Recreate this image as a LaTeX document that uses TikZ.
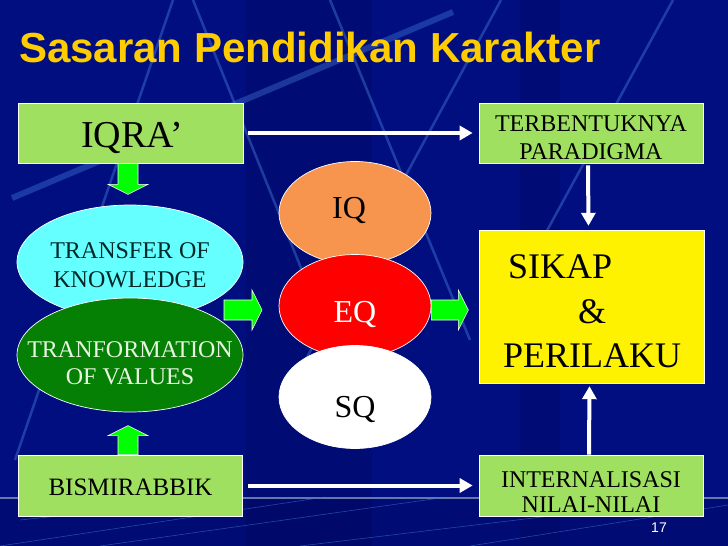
\documentclass[tikz,border=0pt]{standalone}
\usepackage{fontspec}
\setmainfont{Liberation Serif}
\newfontfamily\titlefont{Liberation Sans}
\usetikzlibrary{arrows.meta,shapes.geometric}
\definecolor{bg}{RGB}{0,14,128}
\definecolor{bgdark}{RGB}{0,6,92}
\definecolor{deco}{RGB}{60,110,205}
\definecolor{boxgreen}{RGB}{160,224,96}
\definecolor{cyanell}{RGB}{102,255,255}
\definecolor{darkgreen}{RGB}{5,128,5}
\definecolor{orangeell}{RGB}{247,148,78}
\definecolor{titleyellow}{RGB}{255,204,0}
\definecolor{blockgreen}{RGB}{0,255,0}
\definecolor{greentext}{RGB}{232,245,225}
\definecolor{cyantext}{RGB}{0,40,40}
% block arrow pointing along local +x, tail at local origin; #1 = total length
\newcommand\blockarr[1]{\filldraw[blk] (0,-10) -- (#1-10,-10) -- (#1-10,-20) -- (#1,0) -- (#1-10,20) -- (#1-10,10) -- (0,10) -- cycle;}
\begin{document}
\begin{tikzpicture}[x=1pt,y=-1pt,
  gbox/.style={rectangle, draw=white, line width=0.7pt, fill=boxgreen, minimum width=225pt, minimum height=60pt, inner sep=0pt},
  ellshape/.style={ellipse, draw=white, line width=0.7pt, inner sep=0pt},
  blk/.style={draw=white, line width=0.6pt, fill=blockgreen},
  warrow/.style={draw=white, line width=4pt, -{Triangle[length=13pt,width=14pt]}},
  boxtext/.style={font=\fontsize{24}{28}\selectfont, align=center, text=black, inner sep=0pt},
  qtext/.style={font=\fontsize{32}{36}\selectfont, anchor=base, inner sep=0pt},
  bigtext/.style={font=\fontsize{36}{40}\selectfont, anchor=base west, inner sep=0pt, text=black},
  decoline/.style={draw=deco, line width=2.5pt, opacity=0.5}
]
\useasboundingbox (0,0) rectangle (728,546);
% background
\fill[bg] (0,0) rectangle (728,546);
\fill[bgdark, opacity=0.35] (246,0) rectangle (372,546);
\fill[bgdark, opacity=0.25] (520,0) rectangle (560,546);
\draw[decoline] (173,0) -- (15,460);
\draw[decoline] (193,0) -- (330,340);
\draw[decoline] (330,0) -- (470,340);
\draw[decoline] (501,0) -- (300,370);
\draw[decoline] (673,0) -- (520,280);
\draw[draw=deco, line width=6pt, opacity=0.45] (453,12) -- (12,198);
\fill[bgdark, opacity=0.35] (0,498) rectangle (728,546);
\draw[color={rgb,255:red,100;green,120;blue,175}, line width=1.5pt] (0,498) -- (728,498);
\begin{scope}[draw=deco, line width=0.6pt, opacity=0.6]
\draw (0,546) -- (325,497);
\draw (100,546) -- (440,498);
\draw (300,546) -- (700,498);
\draw (470,546) -- (728,505);
\draw (20,520) -- (230,498);
\end{scope}
% title
\node[anchor=base west, inner sep=0pt, text=titleyellow, font=\titlefont\bfseries\fontsize{42}{46}\selectfont] (title) at (19,62) {Sasaran Pendidikan Karakter};
% boxes
\node[gbox] (iqra) at (130.5,133) {};
\node[gbox, minimum width=224pt] (terb) at (591,133) {};
\node[rectangle, fill=yellow, draw=white, line width=0.4pt, minimum width=225pt, minimum height=153pt, inner sep=0pt] (sikap) at (591.5,306.5) {};
\node[gbox, minimum width=224pt, minimum height=61pt] (bism) at (130,485.5) {};
\node[gbox, minimum width=224pt, minimum height=61pt] (inter) at (591,485.5) {};
% ellipses left
\node[ellshape, fill=cyanell, minimum width=226pt, minimum height=114pt] (tok) at (130,262) {};
\node[ellshape, fill=darkgreen, minimum width=226pt, minimum height=114pt] (tov) at (130,355) {};
% ellipses middle
\node[ellshape, fill=orangeell, minimum width=152pt, minimum height=103pt] (iq) at (355,213) {};
\node[ellshape, fill=red, minimum width=152pt, minimum height=103pt] (eq) at (355,306) {};
\node[ellshape, fill=white, minimum width=152pt, minimum height=103pt] (sq) at (355,397) {};
% texts
\node[inner sep=0pt, font=\fontsize{38}{42}\selectfont, text=black] (iqrat) at (132,138) {IQRA’};
\node[boxtext] (terbt) at (591,137.5) {TERBENTUKNYA\\PARADIGMA};
\node[boxtext, font=\fontsize{25}{27}\selectfont] (bismt) at (130.5,487.5) {BISMIRABBIK};
\node[boxtext, font=\fontsize{24}{25.5}\selectfont] (intert) at (591,492) {INTERNALISASI\\NILAI-NILAI};
\node[boxtext, text=cyantext, font=\fontsize{24}{29}\selectfont] (tokt) at (130,265) {TRANSFER OF\\KNOWLEDGE};
\node[boxtext, text=greentext, font=\fontsize{24}{27.5}\selectfont] (tovt) at (130,363) {TRANFORMATION\\OF VALUES};
\node[qtext, text=black] (iqt) at (349,218) {IQ};
\node[qtext, text=white] (eqt) at (355,322) {EQ};
\node[qtext, text=black] (sqt) at (355,417) {SQ};
\node[bigtext] (sikapt) at (508,278) {SIKAP};
\node[bigtext] (ampt) at (578,323) {\&};
\node[bigtext] (perit) at (503,367) {PERILAKU};
\node[inner sep=0pt, text=white, font=\titlefont\fontsize{14}{16}\selectfont] (pagenum) at (659,528) {17};
% block arrows (tails at the named nodes' edges)
\begin{scope}[shift={(iqra.south -| 128,0)}, rotate=-90] \blockarr{31} \end{scope}
\begin{scope}[shift={(bism.north -| 128,0)}, rotate=90] \blockarr{29} \end{scope}
\begin{scope}[shift={(224,310)}] \blockarr{38} \end{scope}
\begin{scope}[shift={(eq.east |- 0,310)}] \blockarr{37} \end{scope}
% white arrows
\draw[warrow, shorten <=5pt, shorten >=6pt] (iqra) -- (terb);
\draw[warrow, shorten <=6pt, shorten >=6pt] (bism) -- (inter);
\draw[warrow, shorten <=2pt, shorten >=4pt] ([xshift=-3pt]terb.south) -- ([xshift=-3pt]sikap.north);
\draw[warrow, shorten <=0pt, shorten >=3pt] ([xshift=-2pt]inter.north) -- ([xshift=-2pt]sikap.south);
\end{tikzpicture}
\end{document}
